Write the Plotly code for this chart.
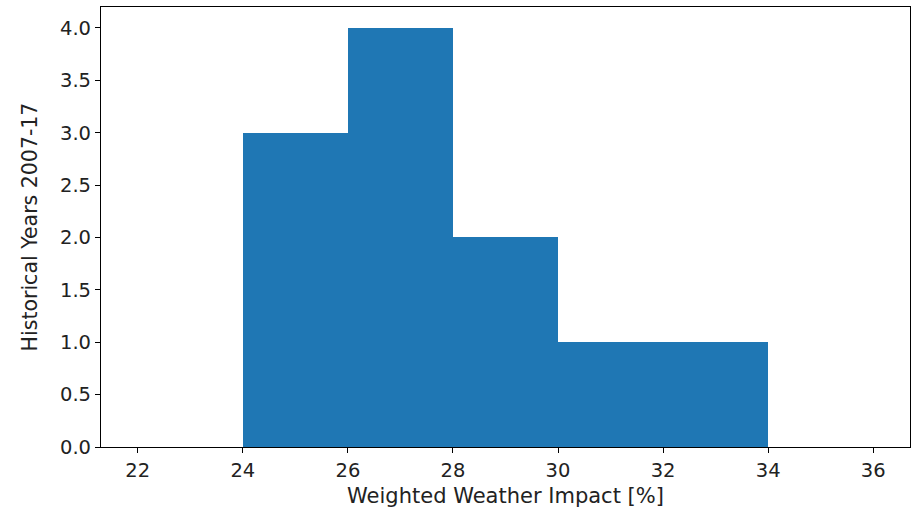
import plotly.graph_objects as go

bin_left = [22, 24, 26, 28, 30, 32, 34]
counts = [0, 3, 4, 2, 1, 1, 0]
bin_width = 2
x_ticks = [22, 24, 26, 28, 30, 32, 34, 36]
y_ticks = [0.0, 0.5, 1.0, 1.5, 2.0, 2.5, 3.0, 3.5, 4.0]

centers = [b + bin_width / 2 for b in bin_left]

fig = go.Figure(go.Bar(
    x=centers, y=counts, width=[bin_width] * len(centers),
    marker=dict(color="#1f77b4", line=dict(width=0)),
))

axis_common = dict(
    showgrid=False, zeroline=False, showline=True, mirror=True,
    linecolor="black", linewidth=1.2, ticks="outside", ticklen=5,
    tickcolor="black", tickwidth=1.2,
    tickfont=dict(family="DejaVu Sans", size=19.5, color="#222"),
)

fig.update_layout(
    width=912, height=517,
    margin=dict(l=101, r=2, t=7, b=70),
    plot_bgcolor="white", paper_bgcolor="white",
    showlegend=False, bargap=0,
    font=dict(family="DejaVu Sans", size=19.5, color="#222"),
    xaxis=dict(range=[21.3, 36.7], tickvals=x_ticks,
               ticktext=[str(v) for v in x_ticks],
               title=dict(text="Weighted Weather Impact [%]", standoff=7,
                          font=dict(family="DejaVu Sans", size=21, color="#222")),
               **axis_common),
    yaxis=dict(range=[0, 4.2], tickvals=y_ticks,
               ticktext=[f"{v:.1f}" for v in y_ticks],
               title=dict(text="Historical Years 2007-17", standoff=16,
                          font=dict(family="DejaVu Sans", size=20.5, color="#222")),
               **axis_common),
)

fig.write_html("out.html")
